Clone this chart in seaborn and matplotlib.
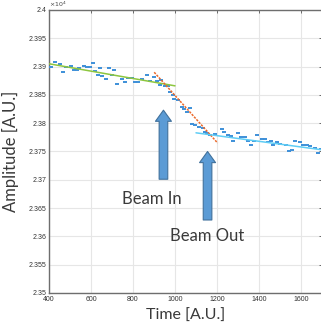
import numpy as np
import pandas as pd
import matplotlib
matplotlib.use("Agg")
import matplotlib.pyplot as plt
import seaborn as sns
from matplotlib.ticker import FuncFormatter, MultipleLocator

# measured samples (time, amplitude)
time = [409, 429, 452, 468, 480, 503, 520, 532, 543, 568, 580, 595, 608, 619,
        632, 643, 654, 671, 686, 699, 710, 722, 746, 762, 778, 794, 810, 822,
        845, 865, 881, 901, 913, 929, 933, 952, 965, 976, 992, 997, 1016, 1032,
        1044, 1056, 1071, 1080, 1095, 1114, 1132, 1143, 1151, 1167, 1190, 1222,
        1235, 1254, 1267, 1278, 1299, 1314, 1333, 1349, 1362, 1378, 1389, 1413,
        1429, 1441, 1457, 1468, 1484, 1500, 1527, 1543, 1559, 1571, 1595, 1611,
        1627, 1643, 1667, 1682, 1695]
amplitude = [23900, 23908, 23905, 23891, 23899, 23901, 23894, 23894, 23897, 23901,
             23899, 23899, 23906, 23893, 23885, 23897, 23884, 23878, 23897, 23886,
             23894, 23869, 23878, 23872, 23880, 23880, 23873, 23873, 23878, 23885,
             23875, 23881, 23875, 23868, 23876, 23865, 23866, 23856, 23850, 23842,
             23841, 23829, 23825, 23819, 23826, 23798, 23797, 23794, 23792, 23785,
             23782, 23779, 23781, 23789, 23785, 23779, 23778, 23769, 23782, 23775,
             23775, 23769, 23762, 23769, 23779, 23772, 23772, 23766, 23769, 23762,
             23766, 23763, 23762, 23751, 23753, 23769, 23767, 23762, 23762, 23760,
             23757, 23748, 23754]

# linear fits (end points)
fit_before_x = [400, 1000]
fit_before_y = [23905, 23866]
fit_ramp_x = [901, 1203]
fit_ramp_y = [23890, 23765]
fit_after_x = [1100, 1700]
fit_after_y = [23783, 23753]

# annotations: label, x, arrow bottom, arrow tip, text x, text y
arrows = [("Beam In", 945, 23701, 23823, 890, 23666),
          ("Beam Out", 1155, 23629, 23750, 1152, 23600)]

sns.set_style("whitegrid")

fig = plt.figure(figsize=(3.21, 3.32), dpi=100)
ax = fig.add_axes([49 / 321, 39 / 332, 273 / 321, 283 / 332])

df = pd.DataFrame({"t": time, "a": amplitude})
sns.scatterplot(data=df, x="t", y="a", marker="_", s=7, linewidth=1.4,
                color="#3d8fd8", ax=ax, zorder=3)

sns.lineplot(x=fit_before_x, y=fit_before_y, color="#8dc63f", linewidth=1.1, ax=ax, zorder=4)
sns.lineplot(x=fit_ramp_x, y=fit_ramp_y, color="#ec6a2c", linewidth=1.1, ax=ax, zorder=4)
ax.lines[-1].set_linestyle((0, (1.5, 0.8)))
sns.lineplot(x=fit_after_x, y=fit_after_y, color="#5fcdf5", linewidth=1.1, ax=ax, zorder=4)

for label, x, y0, y1, tx, ty in arrows:
    ax.annotate("", xy=(x, y1), xytext=(x, y0),
                arrowprops=dict(arrowstyle="simple,tail_width=0.62,head_width=1.15,head_length=0.8",
                                mutation_scale=10, fc="#5b9bd5", ec="#41719c", lw=0.8,
                                shrinkA=0, shrinkB=0), zorder=5)
    ax.text(tx, ty, label, ha="center", va="center", fontsize=12,
            family="Lato", color="#3a3a3a")

ax.set_xlim(400, 1700)
ax.set_ylim(23500, 24000)
ax.xaxis.set_major_locator(MultipleLocator(200))
ax.yaxis.set_major_locator(MultipleLocator(50))
ax.yaxis.set_major_formatter(FuncFormatter(lambda v, p: f"{v / 1e4:g}"))

ax.grid(True, color="#e6e6e6", linewidth=0.8)
for s in ax.spines.values():
    s.set_color("#6e6e6e")
    s.set_linewidth(1.0)
ax.tick_params(direction="in", length=2.5, width=0.6, color="#555555",
               labelsize=5, labelcolor="#333333", top=True, right=True, pad=2)
for lab in ax.get_xticklabels() + ax.get_yticklabels():
    lab.set_family("Liberation Sans")

ax.text(0.0, 1.003, r"$\times10^4$", transform=ax.transAxes, fontsize=4.5,
        color="#444444", ha="left", va="bottom")

ax.set_xlabel("Time [A.U.]", fontsize=11.5, family="Lato", color="#3a3a3a", labelpad=4)
ax.set_ylabel("Amplitude [A.U.]", fontsize=12, family="Lato", color="#3a3a3a", labelpad=7)

fig.savefig("out.png", dpi=100)
